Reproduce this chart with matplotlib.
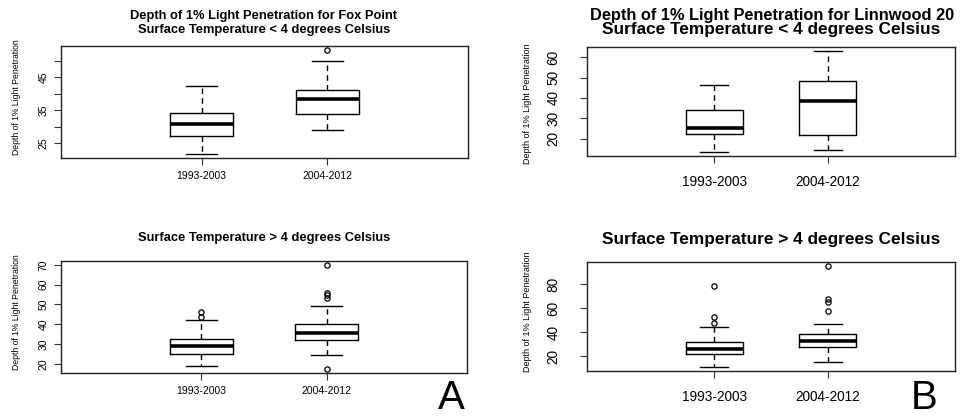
import matplotlib
matplotlib.use("Agg")
import matplotlib.pyplot as plt
from matplotlib import font_manager

plt.rcParams["font.family"] = ["Liberation Sans", "DejaVu Sans"]

# narrow face for the axis titles, if it is there
names = {f.name for f in font_manager.fontManager.ttflist}
narrow = "Liberation Sans Narrow" if "Liberation Sans Narrow" in names else "Liberation Sans"

W, H = 961, 416

periods = ["1993-2003", "2004-2012"]
ylab = "Depth of 1% Light Penetration"

# Fox Point, surface temp < 4 C
fox_cold_whislo = [21.7, 29.0]
fox_cold_q1 = [27.1, 33.7]
fox_cold_med = [30.8, 38.4]
fox_cold_q3 = [34.2, 41.0]
fox_cold_whishi = [42.4, 49.9]
fox_cold_fliers = [[], [53.2]]

# Fox Point, surface temp > 4 C
fox_warm_whislo = [19.0, 24.3]
fox_warm_q1 = [24.9, 32.0]
fox_warm_med = [29.0, 35.3]
fox_warm_q3 = [32.3, 39.9]
fox_warm_whishi = [41.9, 49.0]
fox_warm_fliers = [[43.7, 46.2], [17.4, 53.4, 54.9, 55.7, 69.8]]

# Linnwood, surface temp < 4 C
lin_cold_whislo = [13.4, 14.2]
lin_cold_q1 = [22.3, 21.9]
lin_cold_med = [25.2, 38.6]
lin_cold_q3 = [34.0, 48.5]
lin_cold_whishi = [46.4, 63.1]
lin_cold_fliers = [[], []]

# Linnwood, surface temp > 4 C
lin_warm_whislo = [11.2, 15.3]
lin_warm_q1 = [22.2, 27.5]
lin_warm_med = [26.0, 32.5]
lin_warm_q3 = [31.5, 38.8]
lin_warm_whishi = [44.7, 47.0]
lin_warm_fliers = [[48.0, 52.5, 78.6], [57.8, 64.7, 67.2, 94.9]]


def make_stats(whislo, q1, med, q3, whishi, fliers):
    out = []
    for i in range(len(med)):
        out.append(dict(whislo=whislo[i], q1=q1[i], med=med[i], q3=q3[i],
                        whishi=whishi[i], fliers=fliers[i]))
    return out


def px_axes(fig, x0, y0, x1, y1):
    return fig.add_axes([x0 / W, 1 - y1 / H, (x1 - x0) / W, (y1 - y0) / H])


def draw_panel(ax, stats, ticks, ticklabels, fs, ypad, xpad):
    ax.bxp(stats, positions=[1, 2], widths=0.5, showfliers=True,
           boxprops=dict(color="black", linewidth=1.0),
           whiskerprops=dict(color="black", linewidth=1.0, linestyle=(0, (4, 3))),
           capprops=dict(color="black", linewidth=1.0),
           medianprops=dict(color="black", linewidth=2.6),
           flierprops=dict(marker="o", markersize=3.8, markerfacecolor="none",
                           markeredgecolor="black", markeredgewidth=0.9))
    lo = min(min(s["whislo"], *(s["fliers"] or [s["whislo"]])) for s in stats)
    hi = max(max(s["whishi"], *(s["fliers"] or [s["whishi"]])) for s in stats)
    pad = (hi - lo) * 0.04
    ax.set_ylim(lo - pad, hi + pad)
    ax.set_xlim(-0.12, 3.12)
    ax.set_xticks([1, 2])
    ax.set_xticklabels(periods, fontsize=fs)
    ax.set_yticks(ticks)
    ax.set_yticklabels(ticklabels, fontsize=fs, rotation=90, va="center")
    ax.tick_params(axis="both", direction="out", length=5, width=0.8, color="#333333")
    ax.tick_params(axis="y", pad=ypad)
    ax.tick_params(axis="x", pad=xpad)
    for sp in ax.spines.values():
        sp.set_linewidth(1.0)
        sp.set_color("#222222")


fig = plt.figure(figsize=(W / 100, H / 100), dpi=100)

# Panel A (Fox Point)
ax1 = px_axes(fig, 61, 46, 468, 158)
draw_panel(ax1, make_stats(fox_cold_whislo, fox_cold_q1, fox_cold_med, fox_cold_q3,
                           fox_cold_whishi, fox_cold_fliers),
           [25, 30, 35, 40, 45, 50], ["25", "", "35", "", "45", ""], 7.5, 4, 4.5)
ax2 = px_axes(fig, 61, 261, 467, 373)
draw_panel(ax2, make_stats(fox_warm_whislo, fox_warm_q1, fox_warm_med, fox_warm_q3,
                           fox_warm_whishi, fox_warm_fliers),
           [20, 30, 40, 50, 60, 70], ["20", "30", "40", "50", "60", "70"], 7.5, 4, 4.5)

# Panel B (Linnwood)
ax3 = px_axes(fig, 587, 47, 955, 156)
draw_panel(ax3, make_stats(lin_cold_whislo, lin_cold_q1, lin_cold_med, lin_cold_q3,
                           lin_cold_whishi, lin_cold_fliers),
           [20, 30, 40, 50, 60], ["20", "30", "40", "50", "60"], 9.8, 14, 9)
ax4 = px_axes(fig, 587, 262, 955, 371)
draw_panel(ax4, make_stats(lin_warm_whislo, lin_warm_q1, lin_warm_med, lin_warm_q3,
                           lin_warm_whishi, lin_warm_fliers),
           [20, 40, 60, 80], ["20", "40", "60", "80"], 9.8, 14, 9)

# titles
fsa, fsb = 9.3, 12.4
fig.text(264 / W, 1 - 16 / H, "Depth of 1% Light Penetration for Fox Point",
         ha="center", va="center", fontsize=fsa, fontweight="bold")
fig.text(264 / W, 1 - 30.5 / H, "Surface Temperature < 4 degrees Celsius",
         ha="center", va="center", fontsize=fsa, fontweight="bold")
fig.text(264 / W, 1 - 238.5 / H, "Surface Temperature > 4 degrees Celsius",
         ha="center", va="center", fontsize=fsa, fontweight="bold")

fig.text(590 / W, 1 - 15.5 / H, "Depth of 1% Light Penetration for Linnwood 20",
         ha="left", va="center", fontsize=11.8, fontweight="bold")
fig.text(771 / W, 1 - 29.5 / H, "Surface Temperature < 4 degrees Celsius",
         ha="center", va="center", fontsize=fsb, fontweight="bold")
fig.text(771 / W, 1 - 239.5 / H, "Surface Temperature > 4 degrees Celsius",
         ha="center", va="center", fontsize=fsb, fontweight="bold")

# y labels
for x, y, fs in [(16.7, 97, 6.2), (16.7, 312, 6.2), (527, 104, 6.5), (527, 312, 6.5)]:
    fig.text(x / W, 1 - y / H, ylab, rotation=90, ha="center", va="center",
             fontsize=fs, family=[narrow, "DejaVu Sans"])

# panel letters
fig.text(451 / W, 1 - 409 / H, "A", ha="center", va="baseline", fontsize=29)
fig.text(924 / W, 1 - 409 / H, "B", ha="center", va="baseline", fontsize=29)

fig.savefig("out.png", dpi=100)
